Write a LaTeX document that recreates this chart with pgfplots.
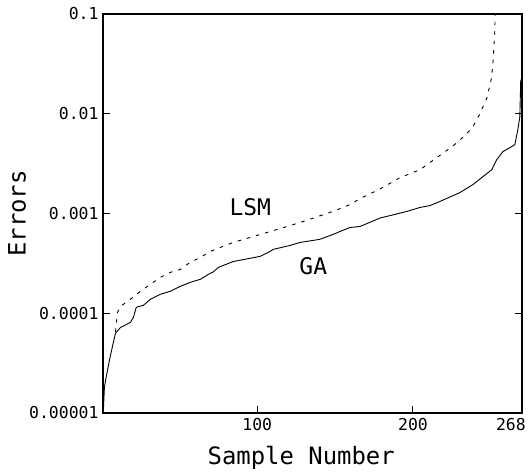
\documentclass[border=0pt]{standalone}
\usepackage{fontspec}
\usepackage{pgfplots}
\pgfplotsset{compat=1.18}
\newfontfamily\plotfont{DejaVu Sans Mono}

\begin{document}
\begin{tikzpicture}
\begin{axis}[
    name=ax,
    scale only axis,
    width=419bp, height=399bp,
    ymode=log,
    xmin=1, xmax=270,
    ymin=1e-5, ymax=0.1,
    xtick={100,200},
    extra x ticks={268},
    extra x tick style={major tick length=0pt, xticklabel style={xshift=-8bp}},
    ytick={1e-5,1e-4,1e-3,1e-2,1e-1},
    yticklabels={0.00001,0.0001,0.001,0.01,0.1},
    yminorticks=false,
    xtick pos=bottom,
    ytick pos=both,
    tick align=inside,
    major tick length=7bp,
    axis line style={line width=1.2bp},
    every tick/.style={line width=1bp, black},
    /pgf/number format/assume math mode=true,
    tick label style={font=\plotfont\fontsize{16.5}{16.5}\selectfont},
    xticklabel style={yshift=-2bp},
    yticklabel style={xshift=-1bp},
    xlabel={Sample Number},
    ylabel={Errors},
    label style={font=\plotfont\fontsize{24}{24}\selectfont},
    xlabel style={at={(axis description cs:0.473,-0.113)}, anchor=center},
    ylabel style={at={(axis description cs:-0.205,0.5)}, anchor=center, rotate=0},
]

% GA (solid)
\addplot[black, line width=0.9bp] coordinates {
(1.2,1.0e-5) (1.5,1.3e-5) (1.9,1.8e-5) (2.6,2.1e-5) (5,3.3e-5) (7,4.6e-5)
(9,6.3e-5) (12.2,7.2e-5) (18.6,8.1e-5) (20.5,9.1e-5) (22.4,1.15e-4)
(26.9,1.2e-4) (31.4,1.38e-4) (37.8,1.55e-4) (44.2,1.66e-4) (50.6,1.86e-4)
(57,2.04e-4) (63.5,2.19e-4) (68.6,2.45e-4) (71.8,2.6e-4) (75,2.88e-4)
(84.6,3.3e-4) (101.9,3.72e-4) (108.3,4.17e-4) (110.3,4.37e-4)
(121.2,4.79e-4) (127.6,5.13e-4) (140,5.5e-4) (148.7,6.17e-4)
(153.2,6.61e-4) (159.6,7.24e-4) (166,7.41e-4) (178.8,9.0e-4)
(196.2,1.05e-3) (204.5,1.15e-3) (210.9,1.2e-3) (217.3,1.32e-3)
(230.1,1.62e-3) (238.5,1.95e-3) (244.9,2.34e-3) (250.6,2.75e-3)
(253.8,3.47e-3) (257.7,4.17e-3) (262.2,4.57e-3) (265.4,4.9e-3)
(267.3,6.9e-3) (268.6,9.3e-3) (269.2,2.2e-2)
};

% LSM (dashed)
\addplot[black, line width=0.9bp, dash pattern=on 3.5bp off 6bp] coordinates {
(9,6.5e-5) (10.3,1.02e-4) (12.2,1.17e-4) (18.6,1.38e-4) (25,1.66e-4)
(31.4,1.95e-4) (37.8,2.29e-4) (44.2,2.57e-4) (50.6,2.75e-4) (57,3.24e-4)
(63.5,3.63e-4) (69.9,4.17e-4) (76.3,4.57e-4) (84.6,5.13e-4)
(106.4,6.46e-4) (127.6,8.13e-4) (148.7,1.05e-3) (159.6,1.23e-3)
(166,1.41e-3) (178.8,1.76e-3) (191.7,2.29e-3) (204.5,2.75e-3)
(210.9,3.24e-3) (219,4.0e-3) (226,4.8e-3) (232,5.8e-3) (238,7.2e-3)
(243,1.0e-2) (247.5,1.45e-2) (250.5,2.3e-2) (251.5,3.5e-2)
(252.5,6.5e-2) (252.8,0.1)
};

\node[font=\plotfont\fontsize{23}{23}\selectfont] at (axis cs:95.5,1.15e-3) {LSM};
\node[font=\plotfont\fontsize{23}{23}\selectfont] at (axis cs:136,3.0e-4) {GA};
\end{axis}
\pgfresetboundingbox
\path (ax.south west) ++(-103bp,-61bp);
\path (ax.north east) ++(8bp,14bp);
\end{tikzpicture}
\end{document}
